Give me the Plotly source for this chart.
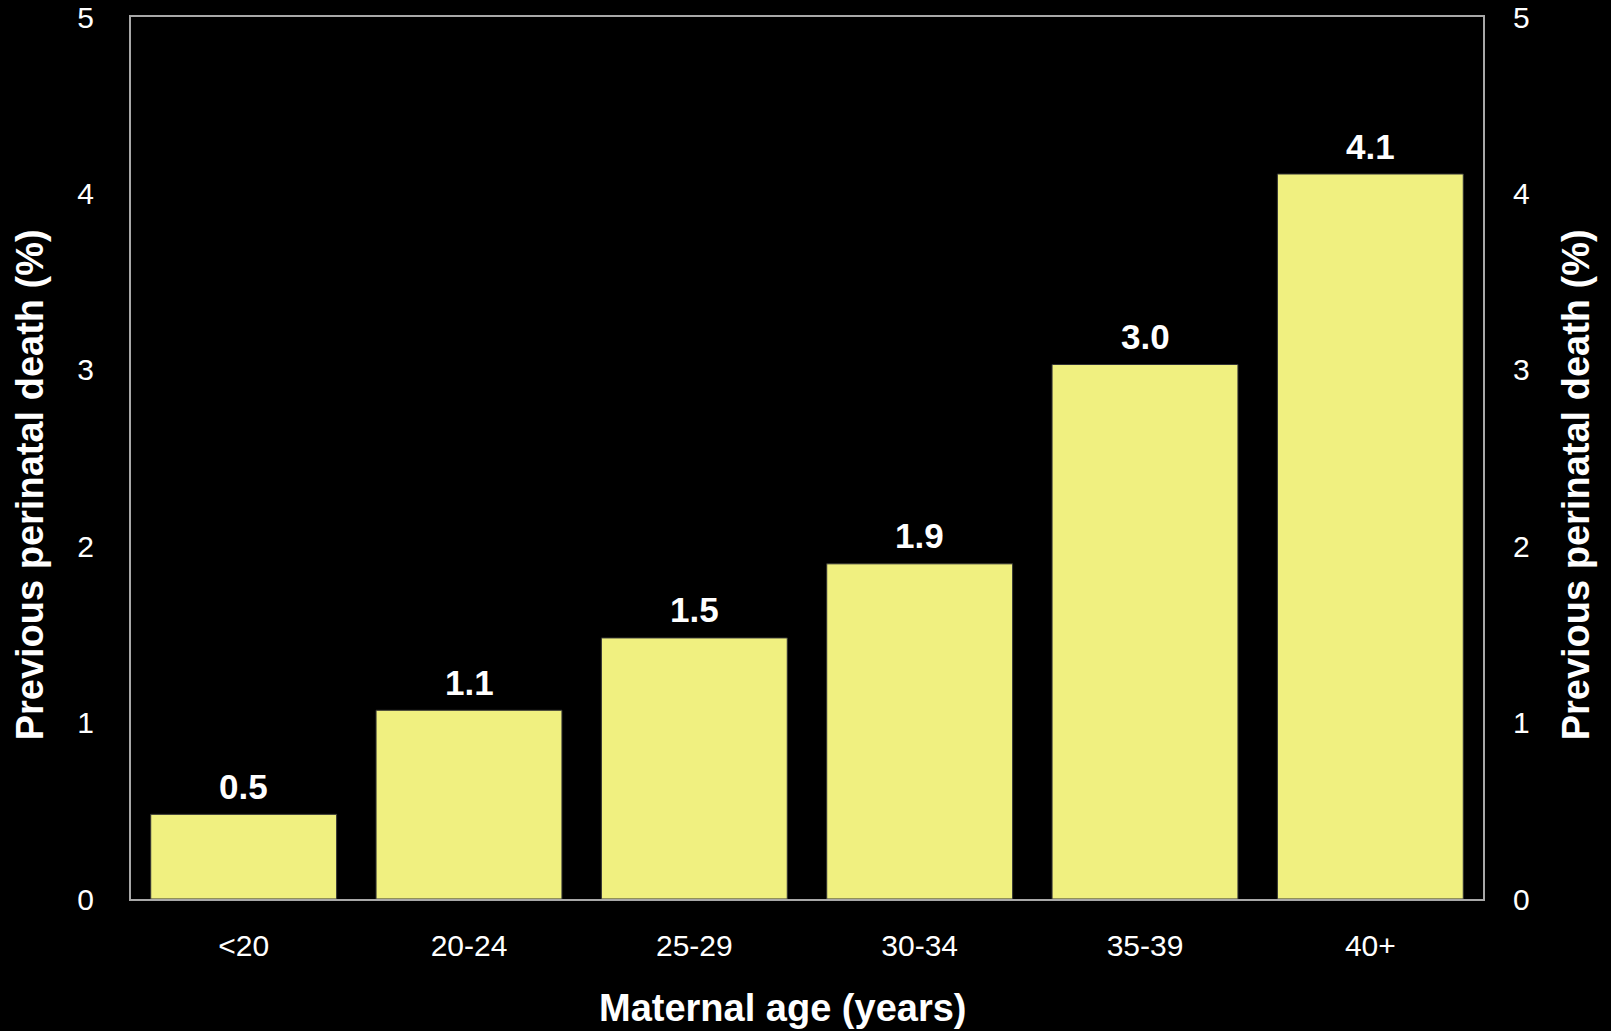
import plotly.graph_objects as go

categories = ["<20", "20-24", "25-29", "30-34", "35-39", "40+"]
values = [0.48, 1.07, 1.48, 1.90, 3.03, 4.11]
labels = ["0.5", "1.1", "1.5", "1.9", "3.0", "4.1"]
y_ticks = [0, 1, 2, 3, 4, 5]
x_title = "Maternal age (years)"
y_title = "Previous perinatal death (%)"

FONT = "Liberation Sans, Arial, sans-serif"

fig = go.Figure()
fig.add_trace(go.Bar(
    x=categories, y=values,
    marker=dict(color="#F0F080", line=dict(color="#333333", width=1)),
    hoverinfo="skip", showlegend=False,
))
fig.add_trace(go.Scatter(
    x=categories, y=values, yaxis="y2", mode="markers",
    marker=dict(opacity=0), hoverinfo="skip", showlegend=False,
))

for c, v, t in zip(categories, values, labels):
    fig.add_annotation(x=c, y=v, text=t, showarrow=False, yanchor="middle",
                       yshift=28, font=dict(family=FONT, size=35, color="white", weight="bold"))

title_font = dict(family=FONT, size=38, color="white", weight="bold")
# axis titles as paper-anchored annotations (offset from plot centre as in the original)
fig.add_annotation(xref="paper", yref="paper", x=0, y=0.469, xshift=-101,
                   text=y_title, textangle=-90, showarrow=False,
                   xanchor="center", yanchor="middle", font=title_font)
fig.add_annotation(xref="paper", yref="paper", x=1, y=0.469, xshift=93,
                   text=y_title, textangle=-90, showarrow=False,
                   xanchor="center", yanchor="middle", font=title_font)
fig.add_annotation(xref="paper", yref="paper", x=0.482, y=0, yshift=-109,
                   text=x_title, showarrow=False,
                   xanchor="center", yanchor="middle",
                   font=dict(family=FONT, size=38, color="white", weight="bold"))

axis_common = dict(
    range=[0, 5], tickvals=y_ticks, showgrid=False, zeroline=False,
    ticks="outside", tickcolor="black", automargin=False,
    tickfont=dict(family=FONT, size=30, color="white"),
    showline=True, linecolor="#A8A8A8", linewidth=2,
)

fig.update_layout(
    width=1611, height=1031,
    paper_bgcolor="black", plot_bgcolor="black",
    margin=dict(l=131, r=128, t=17, b=132),
    bargap=0.175,
    xaxis=dict(
        showgrid=False, zeroline=False, showline=True, mirror=True,
        linecolor="#A8A8A8", linewidth=2, automargin=False,
        ticks="outside", ticklen=19, tickcolor="black",
        tickfont=dict(family=FONT, size=30, color="white"),
    ),
    yaxis=dict(**axis_common, side="left", ticklen=29),
    yaxis2=dict(**axis_common, side="right", overlaying="y", ticklen=22),
)

fig.write_html(
    "out.html",
    config={"displayModeBar": False},
    post_script="document.body.style.margin='0';document.body.style.background='black';document.body.style.overflow='hidden';",
)
